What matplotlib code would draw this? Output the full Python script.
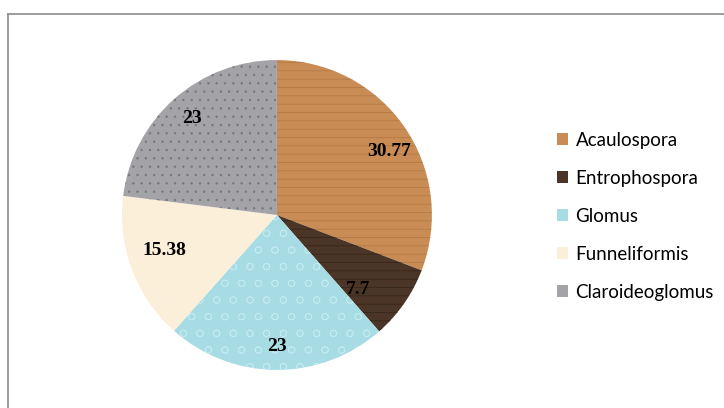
import matplotlib.pyplot as plt
import numpy as np

# data
genera = ["Acaulospora", "Entrophospora", "Glomus", "Funneliformis", "Claroideoglomus"]
values = [30.77, 7.7, 23, 15.38, 23]
value_labels = ["30.77", "7.7", "23", "15.38", "23"]

# fill colours approximating the textured fills (wood, dark wood, water, cream, granite)
fills = ["#C98C55", "#4B3526", "#A8DCE5", "#FCEFD9", "#A3A3A8"]
grain = ["#B07640", "#33241A", "#C4EAF1", "#FCEFD9", "#76767C"]
hatches = ["--", "--", "o", None, ".."]
label_r = [0.83, 0.71, 0.85, 0.76, 0.83]
label_shift = [-5, -8, 0, -3, 0]   # degrees, to mimic Excel's best-fit placement

plt.rcParams["hatch.linewidth"] = 0.5

fig = plt.figure(figsize=(7.24, 4.08), dpi=100)
fig.patch.set_facecolor("white")

# grey outer frame (only left and top visible in the reference)
fig.add_artist(plt.Line2D([8 / 724, 8 / 724], [0, 1 - 14 / 408], transform=fig.transFigure,
                          color="#8C8C8C", lw=1.2))
fig.add_artist(plt.Line2D([8 / 724, 1], [1 - 14 / 408, 1 - 14 / 408], transform=fig.transFigure,
                          color="#8C8C8C", lw=1.2))

ax = fig.add_axes([0.1685, 0.0931, 0.428, 0.760])
wedges, _ = ax.pie(values, startangle=90, counterclock=False, colors=fills,
                   wedgeprops=dict(linewidth=0))
for w, ec, h in zip(wedges, grain, hatches):
    if h:
        w.set_hatch(h)
        w.set_edgecolor(ec)
        w.set_linewidth(0)

for w, txt, r, s in zip(wedges, value_labels, label_r, label_shift):
    ang = np.deg2rad((w.theta1 + w.theta2) / 2 + s)
    ax.text(r * np.cos(ang), r * np.sin(ang), txt, ha="center", va="center",
            fontsize=14, fontweight="bold", family="Liberation Serif", color="black")
ax.set_xlim(-1, 1)
ax.set_ylim(-1, 1)
ax.set_aspect("equal")

leg = fig.legend(wedges, genera, loc="upper left", bbox_to_anchor=(540 / 724, 1 - 115 / 408),
                 frameon=False, handlelength=0.6, handleheight=0.6, handletextpad=0.4,
                 labelspacing=1.12, prop={"family": "Lato", "size": 13.5})
for h, c in zip(leg.legend_handles, fills):
    h.set_hatch(None)
    h.set_facecolor(c)

fig.savefig("out.png", dpi=100)
